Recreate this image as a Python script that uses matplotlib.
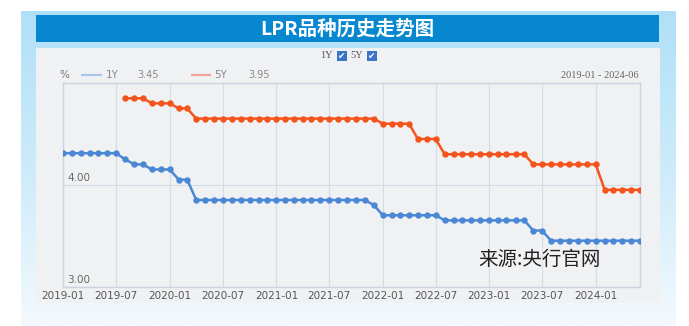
import numpy as np
import pandas as pd
import matplotlib
matplotlib.use('Agg')
import matplotlib.pyplot as plt
from matplotlib.patches import Rectangle
from matplotlib.colors import LinearSegmentedColormap

# Monthly LPR quotes, 2019-01 .. 2024-06
months = pd.date_range('2019-01-01', '2024-06-01', freq='MS')

lpr_1y = [4.31, 4.31, 4.31, 4.31, 4.31, 4.31, 4.31, 4.25, 4.20, 4.20, 4.15, 4.15,
          4.15, 4.05, 4.05, 3.85, 3.85, 3.85, 3.85, 3.85, 3.85, 3.85, 3.85, 3.85,
          3.85, 3.85, 3.85, 3.85, 3.85, 3.85, 3.85, 3.85, 3.85, 3.85, 3.85, 3.80,
          3.70, 3.70, 3.70, 3.70, 3.70, 3.70, 3.70, 3.65, 3.65, 3.65, 3.65, 3.65,
          3.65, 3.65, 3.65, 3.65, 3.65, 3.55, 3.55, 3.45, 3.45, 3.45, 3.45, 3.45,
          3.45, 3.45, 3.45, 3.45, 3.45, 3.45]

lpr_5y = [np.nan, np.nan, np.nan, np.nan, np.nan, np.nan, np.nan, 4.85, 4.85, 4.85, 4.80, 4.80,
          4.80, 4.75, 4.75, 4.65, 4.65, 4.65, 4.65, 4.65, 4.65, 4.65, 4.65, 4.65,
          4.65, 4.65, 4.65, 4.65, 4.65, 4.65, 4.65, 4.65, 4.65, 4.65, 4.65, 4.65,
          4.60, 4.60, 4.60, 4.60, 4.45, 4.45, 4.45, 4.30, 4.30, 4.30, 4.30, 4.30,
          4.30, 4.30, 4.30, 4.30, 4.30, 4.20, 4.20, 4.20, 4.20, 4.20, 4.20, 4.20,
          4.20, 3.95, 3.95, 3.95, 3.95, 3.95]

tick_dates = pd.date_range('2019-01-01', '2024-01-01', freq='6MS')
y_ticks = [3.0, 4.0, 5.0]
y_labels = ['3.00', '4.00', '']

c_1y = '#4a88d6'
c_5y = '#f4541c'
cjk = ['Noto Sans CJK SC', 'DejaVu Sans']

W, H = 689, 326
fig = plt.figure(figsize=(W / 100, H / 100), dpi=100)
fig.patch.set_facecolor('white')

# Background layer in pixel coordinates
bg = fig.add_axes([0, 0, 1, 1], zorder=-1)
bg.set_xlim(0, W)
bg.set_ylim(H, 0)
bg.axis('off')

grad = LinearSegmentedColormap.from_list('frame', ['#b0e0f8', '#cdebfa', '#f3f9fe'])
bg.imshow(np.linspace(0, 1, 200).reshape(-1, 1), cmap=grad, aspect='auto',
          extent=[21, 676, H, 11], zorder=0)
bg.add_patch(Rectangle((36, 48), 624, 255, facecolor='#f0f1f3', edgecolor='none', zorder=1))
bg.add_patch(Rectangle((36, 15), 623, 27, facecolor='#0787cf', edgecolor='none', zorder=2))
bg.text(347.5, 28.5, 'LPR品种历史走势图', color='white', fontsize=14, fontweight='bold',
        ha='center', va='center', family=cjk, zorder=3)

# Series toggles
bg.text(320, 56, '1Y', family='Liberation Serif', fontsize=7.5, color='#555555', va='center')
bg.add_patch(Rectangle((337, 51), 10, 10, facecolor='#3a74c4', edgecolor='none', zorder=3))
bg.text(342, 56, '\u2714', color='white', fontsize=6.5, ha='center', va='center', zorder=4)
bg.text(350, 56, '5Y', family='Liberation Serif', fontsize=7.5, color='#555555', va='center')
bg.add_patch(Rectangle((367, 51), 10, 10, facecolor='#3a74c4', edgecolor='none', zorder=3))
bg.text(372, 56, '\u2714', color='white', fontsize=6.5, ha='center', va='center', zorder=4)

# Legend row
bg.text(59, 75, '%', fontsize=7.5, color='#777777', va='center')
bg.plot([82, 101], [75, 75], color='#a8c6ec', lw=1.5)
bg.text(106, 75, '1Y', fontsize=7.5, color='#888888', va='center')
bg.text(137, 75, '{:.2f}'.format(lpr_1y[-1]), fontsize=7, color='#888888', va='center')
bg.plot([192, 210], [75, 75], color='#f4a09a', lw=1.5)
bg.text(214, 75, '5Y', fontsize=7.5, color='#888888', va='center')
bg.text(248, 75, '{:.2f}'.format(lpr_5y[-1]), fontsize=7, color='#888888', va='center')
bg.text(639, 75, '2019-01 - 2024-06', family='Liberation Serif', fontsize=7.5,
        color='#666666', ha='right', va='center')

# Main chart
ax = fig.add_axes([63.3 / W, 1 - 286.5 / H, 576.7 / W, 203.5 / H])
ax.set_facecolor('none')
ax.plot(months, lpr_1y, color=c_1y, lw=1.8, marker='o', markersize=3.6, zorder=3)
ax.plot(months, lpr_5y, color=c_5y, lw=1.8, marker='o', markersize=3.6, zorder=3)

ax.set_xlim(months[0], months[-1])
ax.set_ylim(3.0, 5.0)
ax.set_xticks(tick_dates)
ax.set_xticklabels([d.strftime('%Y-%m') for d in tick_dates])
ax.set_yticks(y_ticks)
ax.set_yticklabels([])
ax.tick_params(axis='both', length=0)
ax.tick_params(axis='x', labelsize=7.5, labelcolor='#555555', pad=3)
ax.grid(True, color='#d3dbe5', lw=0.8)
for s in ax.spines.values():
    s.set_color('#cad3de')
    s.set_linewidth(1.0)

# y labels sit inside the plot, just above their gridline
for v, lab in zip(y_ticks, y_labels):
    ax.annotate(lab, (0, v), xycoords=('axes fraction', 'data'), xytext=(3.0, 1.2),
                textcoords='offset points', fontsize=7.5, color='#666666', va='bottom')

fig.text(540 / W, 1 - 259 / H, '来源:央行官网', family=cjk, fontsize=14, color='#222222',
         ha='center', va='center', zorder=5,
         bbox=dict(boxstyle='square,pad=0.05', facecolor='#f4f5f6', alpha=0.3, edgecolor='none'))

fig.savefig('out.png', dpi=100)
